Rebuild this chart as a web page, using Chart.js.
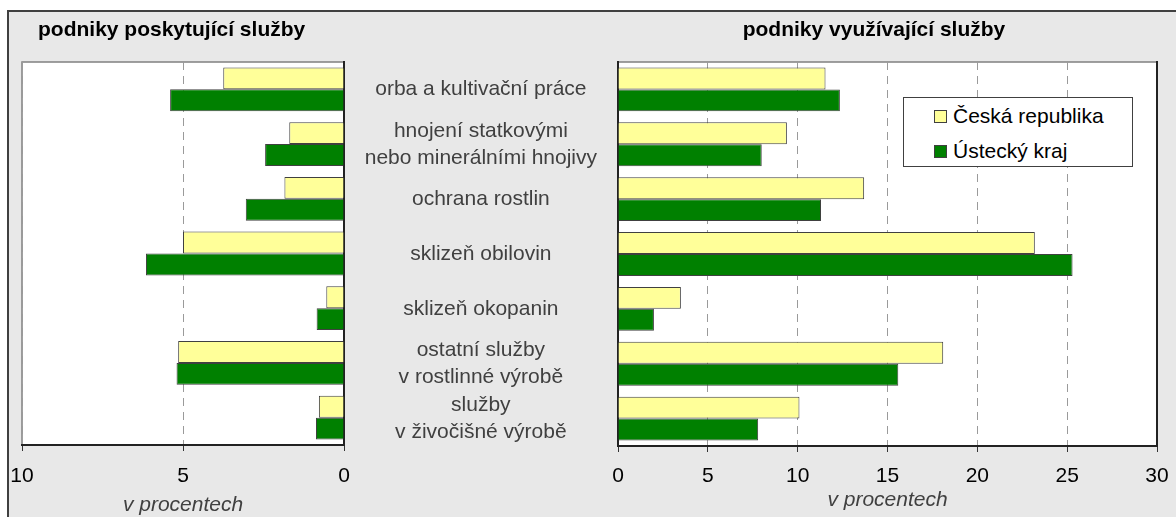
<!DOCTYPE html>
<html>
<head>
<meta charset="utf-8">
<script src="https://cdn.jsdelivr.net/npm/chart.js@4.4.1/dist/chart.umd.min.js"></script>
<style>
  body { margin: 0; background: #fff; }
  #wrap { position: relative; width: 1176px; height: 517px; overflow: hidden; font-family: "Liberation Sans", Arial, sans-serif; }
  #frame { position: absolute; left: 7px; top: 10px; right: -10px; bottom: -10px; background: #e8e8e8;
           border-top: 2px solid #404040; border-left: 2px solid #404040; }
  canvas { position: absolute; top: 0; }
  .title { position: absolute; top: 18px; font-weight: bold; font-size: 21px; line-height: 21px; color: #000; white-space: nowrap; }
  #legend { position: absolute; left: 903px; top: 97px; width: 228px; height: 68px; background: #fff; border: 1px solid #404040; }
  #legend .row { position: absolute; left: 30px; height: 21px; line-height: 21px; font-size: 21px; color: #000; white-space: nowrap; }
  #legend .box { position: absolute; left: 0; top: 5px; width: 11px; height: 11px; border: 1px solid #404040; }
  #legend .txt { position: absolute; left: 19px; top: 0; }
</style>
</head>
<body>
<div id="wrap">
  <div id="frame"></div>
  <canvas id="left" width="360" height="517" style="left:0"></canvas>
  <canvas id="right" width="832" height="517" style="left:344px"></canvas>
  <div class="title" style="left:38px">podniky poskytující služby</div>
  <div class="title" style="left:874px; transform: translateX(-50%)">podniky využívající služby</div>
  <div id="legend"></div>
</div>
<script>
// categories (shared by both panels)
const categories = [
  'orba a kultivační práce',
  ['hnojení statkovými', 'nebo minerálními hnojivy'],
  'ochrana rostlin',
  'sklizeň obilovin',
  'sklizeň okopanin',
  ['ostatní služby', 'v rostlinné výrobě'],
  ['služby', 'v živočišné výrobě'],
];
const seriesNames = ['Česká republika', 'Ústecký kraj'];

// podniky poskytující služby (%)
const providingCR = [3.75, 1.7, 1.85, 5.0, 0.55, 5.15, 0.78];
const providingUK = [5.4, 2.45, 3.05, 6.15, 0.85, 5.2, 0.87];

// podniky využívající služby (%)
const usingCR = [11.55, 9.4, 13.7, 23.2, 3.5, 18.1, 10.1];
const usingUK = [12.35, 8.0, 11.3, 25.3, 2.0, 15.6, 7.8];

const leftMax = 10;
const rightMax = 30;
const tickStep = 5;
const axisTitle = 'v procentech';

const yellow = '#ffff99';
const green = '#008000';
const barEdge = '#404040';

Chart.defaults.font.family = '"Liberation Sans", Arial, sans-serif';

// white plot area with a thin frame
const plotFrame = {
  id: 'plotFrame',
  beforeDraw(chart, args, opts) {
    const { ctx, chartArea: a } = chart;
    ctx.save();
    ctx.fillStyle = '#fff';
    ctx.fillRect(a.left, a.top, a.width, a.height);
    ctx.lineWidth = 1.5;
    ctx.strokeStyle = '#808080';
    ctx.strokeRect(a.left, a.top, a.width, a.height);
    ctx.restore();
  },
  afterDraw(chart, args, opts) {
    if (!opts.rightEdge) return;
    const { ctx, chartArea: a } = chart;
    ctx.save();
    ctx.lineWidth = 2;
    ctx.strokeStyle = opts.rightEdge;
    ctx.beginPath();
    ctx.moveTo(a.right, a.top - 1);
    ctx.lineTo(a.right, a.bottom);
    ctx.stroke();
    ctx.restore();
  }
};

const tickFont = { size: 21, lineHeight: 1 };
const titleFont = { size: 21, style: 'italic', lineHeight: 1 };

const makeDatasets = (a, b) => [
  { label: seriesNames[0], data: a, backgroundColor: yellow, borderColor: barEdge, borderWidth: 1 },
  { label: seriesNames[1], data: b, backgroundColor: green, borderColor: barEdge, borderWidth: 1 },
];

const valueAxis = (max, reverse, pad, titlePad, height) => ({
  reverse: reverse,
  min: 0,
  max: max,
  ticks: { stepSize: tickStep, padding: pad, color: '#000', font: tickFont },
  grid: { color: '#9a9a9a', tickColor: '#333', tickLength: 6, tickBorderDash: [] },
  border: { color: '#222', width: 2, dash: [8, 6] },
  title: { display: true, text: axisTitle, color: '#404040', font: titleFont, padding: { top: 0, bottom: titlePad } },
  afterFit: s => {
    s.height = height;
    // keep the plot edges where the layout padding puts them
    s.paddingLeft = 0;
    s.paddingRight = 0;
  },
});

const leftChart = new Chart(document.getElementById('left'), {
  type: 'bar',
  data: { labels: categories, datasets: makeDatasets(providingCR, providingUK) },
  options: {
    indexAxis: 'y',
    responsive: false,
    animation: false,
    layout: { padding: { left: 22, right: 16, top: 62, bottom: 0 } },
    datasets: { bar: { categoryPercentage: 0.8, barPercentage: 1 } },
    plugins: { legend: { display: false }, tooltip: { enabled: false }, plotFrame: {} },
    scales: {
      x: valueAxis(leftMax, true, 15, 1.5, 72),
      y: {
        position: 'right',
        ticks: { display: false },
        grid: { display: false, drawTicks: false },
        border: { color: '#222', width: 2 },
        afterFit: s => { s.width = 0; },
      },
    },
  },
  plugins: [plotFrame],
});

const rightChart = new Chart(document.getElementById('right'), {
  type: 'bar',
  data: { labels: categories, datasets: makeDatasets(usingCR, usingUK) },
  options: {
    indexAxis: 'y',
    responsive: false,
    animation: false,
    layout: { padding: { left: 0, right: 19, top: 62, bottom: 0 } },
    datasets: { bar: { categoryPercentage: 0.8, barPercentage: 1 } },
    plugins: { legend: { display: false }, tooltip: { enabled: false }, plotFrame: { rightEdge: '#222' } },
    scales: {
      x: valueAxis(rightMax, false, 14, 6.5, 71),
      y: {
        position: 'left',
        ticks: { autoSkip: false, crossAlign: 'center', padding: 21, color: '#404040', font: { size: 21, lineHeight: '27px' } },
        grid: { display: false, drawTicks: false },
        border: { color: '#222', width: 2 },
        afterFit: s => { s.width = 274; },
      },
    },
  },
  plugins: [plotFrame],
});

// legend box built from the chart's own legend items
const legendEl = document.getElementById('legend');
const items = Chart.defaults.plugins.legend.labels.generateLabels(rightChart);
items.forEach((item, i) => {
  const row = document.createElement('div');
  row.className = 'row';
  row.style.top = (6.8 + i * 35) + 'px';
  const box = document.createElement('span');
  box.className = 'box';
  box.style.background = item.fillStyle;
  const txt = document.createElement('span');
  txt.className = 'txt';
  txt.textContent = item.text;
  row.appendChild(box);
  row.appendChild(txt);
  legendEl.appendChild(row);
});
</script>
</body>
</html>
